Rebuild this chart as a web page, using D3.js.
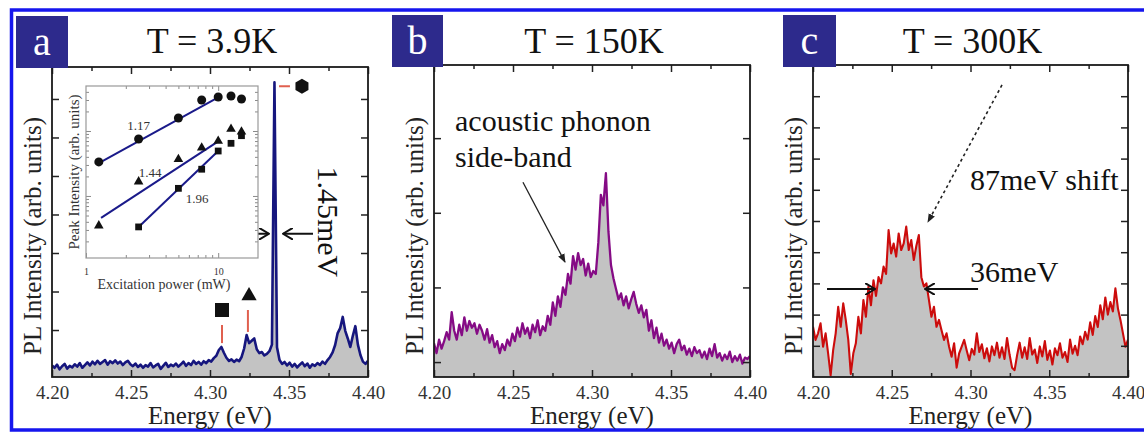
<!DOCTYPE html>
<html>
<head>
<meta charset="utf-8">
<script src="https://cdn.jsdelivr.net/npm/d3@7"></script>
<style>
  body { margin: 0; background: #fff; }
  svg text { font-family: "Liberation Serif", "Times New Roman", serif; }
</style>
</head>
<body>
<div id="chart"></div>
<script>
const width = 1144
const height = 433

// energy sampling of the spectra (eV)
const energyStart = 4.20
const energyStep = 0.0016
const energyTicks = [4.20, 4.25, 4.30, 4.35, 4.40]
const energyMinorTicks = [4.225, 4.275, 4.325, 4.375]

// PL intensity, one value per energy sample (arb. units)
const spectrumA = [
  0.08, 0.02, 0.10, -0.02, 0.06, 0.12, 0.00, 0.07, 0.03, 0.11,
  0.05, 0.14, 0.02, 0.09, 0.16, 0.08, 0.18, 0.11, 0.20, 0.12,
  0.17, 0.22, 0.10, 0.19, 0.14, 0.21, 0.13, 0.18, 0.09, 0.16,
  0.20, 0.11, 0.06, 0.13, 0.04, 0.10, 0.02, 0.09, 0.05, 0.14,
  0.03, 0.08, 0.12, -0.01, 0.07, 0.15, 0.04, 0.10, 0.06, 0.13,
  0.05, 0.11, 0.18, 0.07, 0.14, 0.09, 0.20, 0.12, 0.17, 0.10,
  0.19, 0.14, 0.22, 0.18, 0.27, 0.33, 0.48, 0.56, 0.41, 0.28,
  0.20, 0.24, 0.17, 0.23, 0.19, 0.30, 0.52, 0.87, 0.66, 0.72,
  0.78, 0.50, 0.40, 0.43, 0.34, 0.38, 0.45, 0.62, 7.43, 0.55,
  0.22, 0.12, 0.17, 0.08, 0.15, 0.05, 0.12, 0.03, 0.10, 0.16,
  0.06, 0.13, 0.02, 0.11, 0.07, 0.14, 0.09, 0.18, 0.12, 0.22,
  0.30, 0.42, 0.61, 0.92, 1.05, 1.34, 0.98, 0.78, 0.56, 0.85,
  1.10, 0.62, 0.35, 0.18, 0.12, 0.20
]
const spectrumB = [
  0.25, 0.12, 0.30, 0.18, 0.28, 0.40, 0.30, 0.67, 0.42, 0.30,
  0.50, 0.36, 0.60, 0.42, 0.55, 0.46, 0.52, 0.38, 0.50, 0.42,
  0.30, 0.44, 0.26, 0.36, 0.20, 0.28, 0.12, 0.24, 0.16, 0.30,
  0.22, 0.38, 0.28, 0.46, 0.34, 0.52, 0.38, 0.46, 0.32, 0.50,
  0.40, 0.56, 0.36, 0.48, 0.42, 0.62, 0.50, 0.80, 0.62, 0.88,
  0.74, 1.00, 0.90, 1.18, 1.05, 1.42, 1.24, 1.46, 1.30, 1.38,
  1.16, 1.32, 1.14, 1.22, 1.18, 1.60, 2.24, 2.10, 2.53, 1.75,
  1.30, 1.12, 0.98, 0.84, 0.92, 0.76, 0.88, 0.72, 0.84, 0.94,
  0.78, 0.66, 0.76, 0.60, 0.70, 0.42, 0.56, 0.32, 0.46, 0.26,
  0.38, 0.22, 0.30, 0.18, 0.26, 0.12, 0.24, 0.30, 0.16, 0.22,
  0.10, 0.18, 0.08, 0.20, 0.12, 0.16, 0.06, 0.14, 0.04, 0.18,
  0.08, 0.24, 0.06, 0.12, 0.02, 0.10, 0.04, 0.14, 0.00, 0.08,
  0.02, 0.10, -0.02, 0.06, 0.04, 0.08
]
const spectrumC = [
  1.61, 1.19, 1.40, 1.72, 0.97, 1.40, 0.76, 0.05, 0.86, 1.40,
  2.25, 1.61, 2.36, 1.83, 1.19, 0.10, 0.76, 1.08, 1.93, 1.40,
  2.47, 1.93, 2.90, 2.30, 3.10, 2.60, 3.20, 3.00, 3.54, 3.30,
  4.71, 3.96, 4.28, 3.86, 4.60, 4.07, 4.28, 4.82, 4.07, 4.39,
  3.75, 4.20, 4.55, 3.20, 2.90, 3.00, 2.47, 1.93, 2.25, 1.61,
  1.83, 1.50, 1.19, 1.40, 0.97, 0.65, 1.08, 0.30, 0.76, 0.97,
  1.19, 0.85, 0.54, 0.90, 0.72, 1.40, 0.80, 1.05, 0.60, 0.92,
  0.50, 0.98, 0.70, 1.10, 0.62, 0.95, 0.58, 1.25, 0.72, 0.30,
  0.22, 0.70, 1.10, 0.62, 0.95, 0.58, 1.25, 0.72, 0.88, 0.45,
  0.98, 0.66, 1.15, 0.55, 0.85, 0.40, 0.92, 0.70, 1.08, 0.62,
  0.80, 0.48, 1.20, 0.75, 1.00, 0.70, 1.30, 1.05, 1.45, 1.20,
  1.75, 1.35, 1.95, 1.60, 2.30, 1.85, 2.55, 2.00, 2.40, 2.10,
  2.84, 2.20, 1.83, 1.40, 0.97, 1.20
]

const ticksA = [1, 2, 3, 4, 5, 6, 7]
const ticksB = [0, 1, 2, 3]
const ticksC = [1, 2, 3, 4, 5, 6, 7, 8, 9]

// inset: peak intensity vs excitation power (log-log)
const powerLevels = [1.25, 2.5, 5, 7.5, 10, 12.5, 15]
const hexPeak = [334, 753, 1585, 3000, 3334, 3455, 3107]
const triPeak = [34.9, 166, 367, 553, 702, 1074, 975]
const squarePowers = [2.5, 5, 7.5, 10, 12.5, 15]
const squarePeak = [33.4, 131, 258, 492, 646, 847]
const fitPowers = [[1.25, 10], [1.3, 10], [2.5, 10]]
const fitPeaks = [[320, 3300], [45.9, 690], [33.4, 492]]
const fitLabels = ["1.17", "1.44", "1.96"]
const fitLabelAt = [[2.5, 1035], [3.05, 196], [6.93, 78]]

// panel a: markers over the three lines (energy, intensity)
const markerShapes = ["square", "triangle", "hexagon"]
const markerAt = [[4.3076, 1.52], [4.3247, 1.89], [4.3582, 7.33]]
const markerLinks = [[[4.3076, 1.13], [4.3076, 0.66]], [[4.3240, 1.52], [4.3240, 0.95]], [[4.3437, 7.33], [4.3506, 7.33]]]

const svg = d3.select("#chart").append("svg")
    .attr("width", width)
    .attr("height", height)

const defs = svg.append("defs")
defs.append("marker").attr("id", "vhead")
    .attr("viewBox", "0 -6 11 12").attr("refX", 10).attr("refY", 0)
    .attr("markerUnits", "userSpaceOnUse").attr("markerWidth", 11).attr("markerHeight", 12)
    .attr("orient", "auto")
    .append("path").attr("d", "M0,-6L10,0L0,6").attr("fill", "none").attr("stroke", "#111").attr("stroke-width", 2)
defs.append("marker").attr("id", "thinhead")
    .attr("viewBox", "0 -4 9 8").attr("refX", 8).attr("refY", 0)
    .attr("markerUnits", "userSpaceOnUse").attr("markerWidth", 9).attr("markerHeight", 8)
    .attr("orient", "auto")
    .append("path").attr("d", "M0,-3.5L9,0L0,3.5Z").attr("fill", "#222")

// blue frame round the figure
svg.append("rect")
    .attr("x", 11.5).attr("y", 10)
    .attr("width", 1145).attr("height", 420)
    .attr("fill", "none").attr("stroke", "#1616ee").attr("stroke-width", 3.5)

const energies = spectrumA.map((v, i) => energyStart + i * energyStep)

const panels = [
    {key: "a", left: 52, right: 368, top: 67, bottom: 377, yDomain: [-0.22, 7.83], yTicks: ticksA,
        values: spectrumA, color: "#16167e", lineWidth: 2.6, title: "T = 3.9K", box: [16, 16, 52, 52]},
    {key: "b", left: 434, right: 750, top: 65, bottom: 377, yDomain: [-0.2, 3.98], yTicks: ticksB,
        values: spectrumB, color: "#850b85", lineWidth: 2.3, title: "T = 150K", box: [392, 15, 51, 52]},
    {key: "c", left: 813, right: 1128, top: 65, bottom: 377, yDomain: [0, 10], yTicks: ticksC,
        values: spectrumC, color: "#cc0c0c", lineWidth: 2.1, title: "T = 300K", box: [783, 15, 53, 52]}
]

function hexagon(r) {
    const pts = d3.range(6).map(k => {
        const a = Math.PI / 6 + k * Math.PI / 3
        return [r * Math.cos(a), r * Math.sin(a)]
    })
    return "M" + pts.join("L") + "Z"
}

function styleAxis(sel, color) {
    sel.select(".domain").remove()
    sel.selectAll(".tick line").attr("stroke", color).attr("stroke-width", 1.5)
    sel.selectAll(".tick text").attr("fill", "#333").style("font-size", "19px")
}

function drawPanel(p) {
    const x = d3.scaleLinear().domain([4.20, 4.40]).range([p.left, p.right])
    const y = d3.scaleLinear().domain(p.yDomain).range([p.bottom, p.top])
    const g = svg.append("g")

    defs.append("clipPath").attr("id", "clip-" + p.key)
        .append("rect").attr("x", p.left).attr("y", p.top)
        .attr("width", p.right - p.left).attr("height", p.bottom - p.top)

    const pts = p.values.map((v, i) => [energies[i], v])
    const area = d3.area().x(d => x(d[0])).y0(p.bottom).y1(d => y(d[1]))
    const line = d3.line().x(d => x(d[0])).y(d => y(d[1]))

    g.append("path").datum(pts)
        .attr("d", area).attr("fill", "#c3c3c3")
        .attr("clip-path", `url(#clip-${p.key})`)
    g.append("path").datum(pts)
        .attr("d", line).attr("fill", "none")
        .attr("stroke", p.color).attr("stroke-width", p.lineWidth)
        .attr("stroke-linejoin", "round")
        .attr("clip-path", `url(#clip-${p.key})`)

    // ticks on all four sides, pointing inwards
    g.append("g").attr("transform", `translate(0,${p.bottom})`)
        .call(d3.axisBottom(x).tickValues(energyTicks).tickFormat(d3.format(".2f")).tickSize(-7).tickPadding(9))
        .call(s => styleAxis(s, "#222"))
    g.append("g").attr("transform", `translate(0,${p.bottom})`)
        .call(d3.axisBottom(x).tickValues(energyMinorTicks).tickFormat("").tickSize(-4))
        .call(s => styleAxis(s, "#222"))
    g.append("g").attr("transform", `translate(0,${p.top})`)
        .call(d3.axisTop(x).tickValues(energyTicks).tickFormat("").tickSize(-7))
        .call(s => styleAxis(s, "#222"))
    g.append("g").attr("transform", `translate(0,${p.top})`)
        .call(d3.axisTop(x).tickValues(energyMinorTicks).tickFormat("").tickSize(-4))
        .call(s => styleAxis(s, "#222"))
    g.append("g").attr("transform", `translate(${p.left},0)`)
        .call(d3.axisLeft(y).tickValues(p.yTicks).tickFormat("").tickSize(-7))
        .call(s => styleAxis(s, "#222"))
    g.append("g").attr("transform", `translate(${p.right},0)`)
        .call(d3.axisRight(y).tickValues(p.yTicks).tickFormat("").tickSize(-7))
        .call(s => styleAxis(s, "#222"))

    // plot frame
    g.append("rect")
        .attr("x", p.left).attr("y", p.top)
        .attr("width", p.right - p.left).attr("height", p.bottom - p.top)
        .attr("fill", "none").attr("stroke", "#1a1a1a").attr("stroke-width", 1.8)

    // axis titles
    g.append("text")
        .attr("x", (p.left + p.right) / 2).attr("y", 424)
        .attr("text-anchor", "middle").attr("fill", "#222")
        .style("font-size", "25px")
        .text("Energy (eV)")
    g.append("text")
        .attr("transform", `translate(${p.left - 20},236) rotate(-90)`)
        .attr("text-anchor", "middle").attr("dy", "0.35em").attr("fill", "#222")
        .style("font-size", "25px")
        .text("PL Intensity (arb. units)")

    // panel title and letter box
    g.append("text")
        .attr("x", (p.left + p.right) / 2 + 2).attr("y", 53)
        .attr("text-anchor", "middle").attr("fill", "#111")
        .style("font-size", "36px")
        .text(p.title)
    g.append("rect")
        .attr("x", p.box[0]).attr("y", p.box[1])
        .attr("width", p.box[2]).attr("height", p.box[3])
        .attr("fill", "#2d2a8c")
    g.append("text")
        .attr("x", p.box[0] + p.box[2] / 2).attr("y", p.box[1] + 39)
        .attr("text-anchor", "middle").attr("fill", "#fff")
        .style("font-size", "40px")
        .text(p.key)

    return {x, y, g}
}

const [pa, pb, pc] = panels.map(drawPanel)

// ---- panel a annotations ----
{
    const {x, y, g} = pa
    g.selectAll(".link").data(markerLinks).enter().append("line")
        .attr("x1", d => x(d[0][0])).attr("y1", d => y(d[0][1]))
        .attr("x2", d => x(d[1][0])).attr("y2", d => y(d[1][1]))
        .attr("stroke", "#e0604f").attr("stroke-width", 2)

    markerAt.forEach((d, i) => {
        const shape = markerShapes[i]
        const path = shape === "hexagon" ? hexagon(7.5)
            : d3.symbol().type(shape === "square" ? d3.symbolSquare : d3.symbolTriangle).size(shape === "square" ? 196 : 100)()
        g.append("path").attr("d", path)
            .attr("transform", `translate(${x(d[0])},${y(d[1])})`)
            .attr("fill", "#111")
    })

    // linewidth arrows
    g.append("line")
        .attr("x1", x(4.319)).attr("y1", y(3.5)).attr("x2", x(4.3373)).attr("y2", y(3.5))
        .attr("stroke", "#111").attr("stroke-width", 2).attr("marker-end", "url(#vhead)")
    g.append("line")
        .attr("x1", x(4.3652)).attr("y1", y(3.5)).attr("x2", x(4.3462)).attr("y2", y(3.5))
        .attr("stroke", "#111").attr("stroke-width", 2).attr("marker-end", "url(#vhead)")
    g.append("text")
        .attr("transform", `translate(${x(4.3747)},${y(3.81)}) rotate(90)`)
        .attr("text-anchor", "middle").attr("dy", "0.35em").attr("fill", "#111")
        .style("font-size", "30px")
        .text("1.45meV")

    // inset
    const inset = {left: 86, right: 258, top: 86, bottom: 258}
    const ix = d3.scaleLog().domain([1, 20]).range([inset.left, inset.right])
    const iy = d3.scaleLog().domain([11.1, 4925]).range([inset.bottom, inset.top])
    const ig = g.append("g")

    ig.append("rect")
        .attr("x", inset.left).attr("y", inset.top)
        .attr("width", inset.right - inset.left).attr("height", inset.bottom - inset.top)
        .attr("fill", "#fff")

    const xMinor = [2, 3, 4, 5, 6, 7, 8, 9]
    const yMajor = [100, 1000]
    const yMinor = [20, 30, 40, 50, 60, 70, 80, 90, 200, 300, 400, 500, 600, 700, 800, 900, 2000, 3000, 4000]
    const insetAxis = (axis, pos, vals, size) => {
        ig.append("g").attr("transform", pos)
            .call(axis.tickValues(vals).tickFormat("").tickSize(size))
            .call(s => { s.select(".domain").remove(); s.selectAll(".tick line").attr("stroke", "#8a8a8a") })
    }
    insetAxis(d3.axisBottom(ix), `translate(0,${inset.bottom})`, xMinor, -3)
    insetAxis(d3.axisTop(ix), `translate(0,${inset.top})`, xMinor, -3)
    insetAxis(d3.axisTop(ix), `translate(0,${inset.top})`, [10], -5)
    insetAxis(d3.axisLeft(iy), `translate(${inset.left},0)`, yMinor, -3)
    insetAxis(d3.axisLeft(iy), `translate(${inset.left},0)`, yMajor, -5)
    insetAxis(d3.axisRight(iy), `translate(${inset.right},0)`, yMinor, -3)
    insetAxis(d3.axisRight(iy), `translate(${inset.right},0)`, yMajor, -5)
    ig.append("g").attr("transform", `translate(0,${inset.bottom})`)
        .call(d3.axisBottom(ix).tickValues([1, 10]).tickFormat(d3.format("d")).tickSize(-5).tickPadding(10))
        .call(s => {
            s.select(".domain").remove()
            s.selectAll(".tick line").attr("stroke", "#8a8a8a")
            s.selectAll(".tick text").attr("fill", "#333").style("font-size", "10px")
        })

    ig.append("rect")
        .attr("x", inset.left).attr("y", inset.top)
        .attr("width", inset.right - inset.left).attr("height", inset.bottom - inset.top)
        .attr("fill", "none").attr("stroke", "#999").attr("stroke-width", 1.2)

    // power-law fits
    fitPowers.forEach((pw, i) => {
        ig.append("line")
            .attr("x1", ix(pw[0])).attr("y1", iy(fitPeaks[i][0]))
            .attr("x2", ix(pw[1])).attr("y2", iy(fitPeaks[i][1]))
            .attr("stroke", "#1a1a8a").attr("stroke-width", 2)
    })
    ig.selectAll(".hex").data(powerLevels).enter().append("circle")
        .attr("cx", d => ix(d)).attr("cy", (d, i) => iy(hexPeak[i])).attr("r", 4.5)
        .attr("fill", "#111")
    ig.selectAll(".tri").data(powerLevels).enter().append("path")
        .attr("d", d3.symbol().type(d3.symbolTriangle).size(40))
        .attr("transform", (d, i) => `translate(${ix(d)},${iy(triPeak[i])})`)
        .attr("fill", "#111")
    ig.selectAll(".sq").data(squarePowers).enter().append("path")
        .attr("d", d3.symbol().type(d3.symbolSquare).size(46))
        .attr("transform", (d, i) => `translate(${ix(d)},${iy(squarePeak[i])})`)
        .attr("fill", "#111")
    fitLabels.forEach((t, i) => {
        ig.append("text")
            .attr("x", ix(fitLabelAt[i][0])).attr("y", iy(fitLabelAt[i][1]))
            .attr("text-anchor", "middle").attr("fill", "#333")
            .style("font-size", "13px")
            .text(t)
    })
    ig.append("text")
        .attr("x", (inset.left + inset.right) / 2 - 8).attr("y", 289)
        .attr("text-anchor", "middle").attr("fill", "#333")
        .style("font-size", "14px")
        .text("Excitation power (mW)")
    ig.append("text")
        .attr("transform", `translate(74,${(inset.top + inset.bottom) / 2}) rotate(-90)`)
        .attr("text-anchor", "middle").attr("dy", "0.35em").attr("fill", "#333")
        .style("font-size", "15px")
        .text("Peak Intensity (arb. units)")
}

// ---- panel b annotations ----
{
    const {x, y, g} = pb
    g.append("text")
        .attr("x", x(4.2133)).attr("y", y(3.1))
        .attr("fill", "#111").style("font-size", "30px")
        .text("acoustic phonon")
    g.append("text")
        .attr("x", x(4.2133)).attr("y", y(2.61))
        .attr("fill", "#111").style("font-size", "30px")
        .text("side-band")
    g.append("line")
        .attr("x1", x(4.2563)).attr("y1", y(2.41)).attr("x2", x(4.2829)).attr("y2", y(1.34))
        .attr("stroke", "#222").attr("stroke-width", 1.3).attr("marker-end", "url(#thinhead)")
}

// ---- panel c annotations ----
{
    const {x, y, g} = pc
    g.append("line")
        .attr("x1", x(4.32)).attr("y1", y(9.36)).attr("x2", x(4.273)).attr("y2", y(4.97))
        .attr("stroke", "#222").attr("stroke-width", 1.6).attr("stroke-dasharray", "3,3")
        .attr("marker-end", "url(#thinhead)")
    g.append("text")
        .attr("x", x(4.2997)).attr("y", y(5.99))
        .attr("fill", "#111").style("font-size", "30px")
        .text("87meV shift")
    g.append("text")
        .attr("x", x(4.2997)).attr("y", y(3.04))
        .attr("fill", "#111").style("font-size", "30px")
        .text("36meV")
    g.append("line")
        .attr("x1", x(4.2089)).attr("y1", y(2.82)).attr("x2", x(4.2394)).attr("y2", y(2.82))
        .attr("stroke", "#111").attr("stroke-width", 2).attr("marker-end", "url(#vhead)")
    g.append("line")
        .attr("x1", x(4.3048)).attr("y1", y(2.82)).attr("x2", x(4.2711)).attr("y2", y(2.82))
        .attr("stroke", "#111").attr("stroke-width", 2).attr("marker-end", "url(#vhead)")
}
</script>
</body>
</html>
